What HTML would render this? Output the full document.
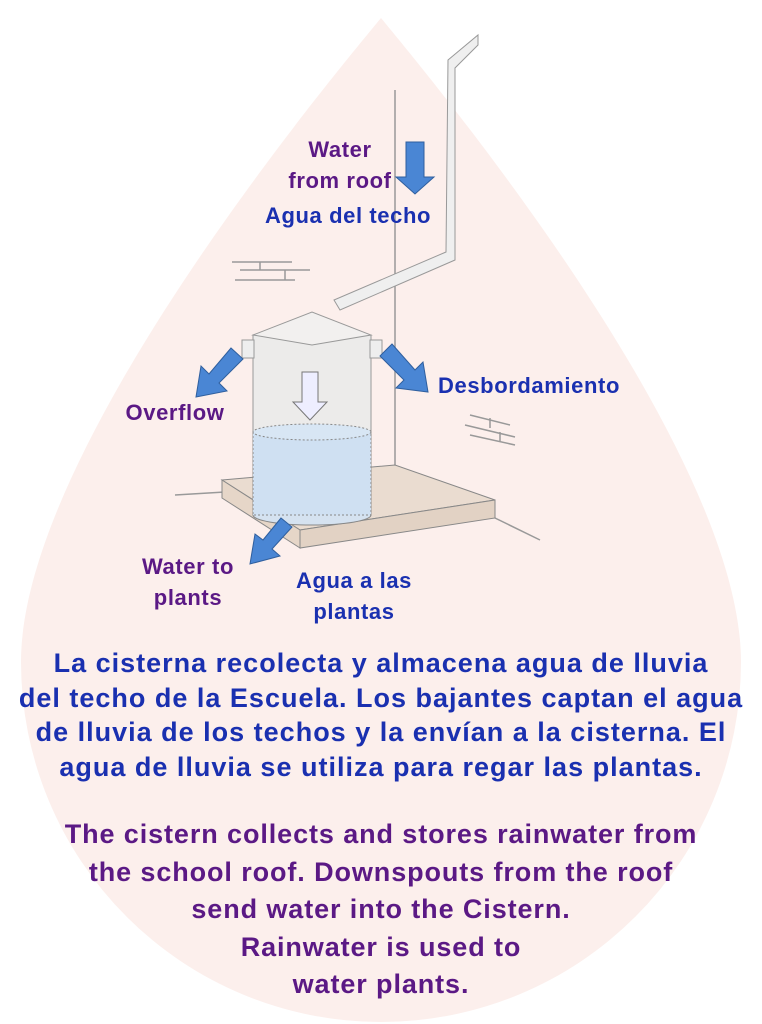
<!DOCTYPE html>
<html><head><meta charset="utf-8"><style>
body{margin:0;width:762px;height:1024px;background:#fff;position:relative;overflow:hidden;font-family:"Liberation Sans",sans-serif;font-weight:bold}
.t{position:absolute;text-align:center;white-space:nowrap;line-height:1}
.p{color:#5b1985}.b{color:#1a30b0}
.l{font-size:22px;letter-spacing:0.6px}
</style></head><body>
<svg width="762" height="1024" style="position:absolute;left:0;top:0">
<path d="M381,18 C330,80 21,450 21,662 A360,360 0 0 0 741,662 C741,450 432,80 381,18 Z" fill="#fcefec"/>
<g stroke="#999" stroke-width="1.5" fill="none">
<line x1="395" y1="90" x2="395" y2="470"/>
<path d="M232,262 h60 M240,270 h70 M235,280 h60 M260,262 v8 M285,270 v10"/>
<path d="M470,415 l40,10 M465,425 l50,12 M470,435 l45,10 M490,418 v10 M500,432 v10"/>
<line x1="175" y1="495" x2="225" y2="492"/>
<line x1="495" y1="518" x2="540" y2="540"/>
</g>
<polygon points="222,480 395,465 495,500 300,530" fill="#eadcd0" stroke="#888"/>
<polygon points="222,480 300,530 300,548 222,498" fill="#e6d6c8" stroke="#888"/>
<polygon points="300,530 495,500 495,518 300,548" fill="#e2d2c4" stroke="#888"/>
<path d="M448,60 L478,35 L478,45 L455,68 L455,260 L340,310 L334,300 L446,252 Z" fill="#efefef" stroke="#999"/>
<rect x="253" y="335" width="118" height="180" fill="#ecebea" stroke="#999"/>
<ellipse cx="312" cy="515" rx="59" ry="10" fill="#d5e2f0" stroke="#888"/>
<rect x="253" y="432" width="118" height="83" fill="#cfe0f2" stroke="#888" stroke-dasharray="2,2"/>
<ellipse cx="312" cy="432" rx="59" ry="8" fill="#d8e6f4" stroke="#888" stroke-dasharray="2,2"/>
<polygon points="253,335 312,312 371,335 312,345" fill="#f2f0ef" stroke="#999"/>
<rect x="242" y="340" width="12" height="18" fill="#eee" stroke="#999"/>
<rect x="370" y="340" width="12" height="18" fill="#eee" stroke="#999"/>
<polygon points="302,372 318,372 318,402 327,402 310,420 293,402 302,402" fill="#eef" stroke="#777"/>
<g fill="#4a86d4" stroke="#2f5f9e" stroke-width="1">
<polygon points="406,142 424,142 424,177 434,177 415,194 396,177 406,177"/>
<polygon points="231,348 243,359 219,383 227,391 196,397 201,366 209,374"/>
<polygon points="392,344 380,356 404,380 396,388 428,392 423,362 415,370"/>
<polygon points="281,518 292,527 272,549 280,556 250,564 255,534 263,540"/>
</g>
</svg>
<div class="t p l" style="left:260px;top:134px;width:160px;line-height:31px">Water<br>from roof</div>
<div class="t b l" style="left:238px;top:205px;width:220px">Agua del techo</div>
<div class="t p l" style="left:105px;top:402px;width:140px">Overflow</div>
<div class="t b l" style="left:424px;top:375px;width:210px">Desbordamiento</div>
<div class="t p l" style="left:108px;top:551px;width:160px;line-height:31px">Water to<br>plants</div>
<div class="t b l" style="left:274px;top:565px;width:160px;line-height:31px">Agua a las<br>plantas</div>
<div class="t b" style="left:0;top:646px;width:762px;font-size:27px;letter-spacing:1px;line-height:34.6px">La cisterna recolecta y almacena agua de lluvia<br>del techo de la Escuela. Los bajantes captan el agua<br>de lluvia de los techos y la envían a la cisterna. El<br>agua de lluvia se utiliza para regar las plantas.</div>
<div class="t p" style="left:0;top:816px;width:762px;font-size:27px;letter-spacing:0.9px;line-height:37.5px">The cistern collects and stores rainwater from<br>the school roof. Downspouts from the roof<br>send water into the Cistern.<br>Rainwater is used to<br>water plants.</div>
</body></html>
